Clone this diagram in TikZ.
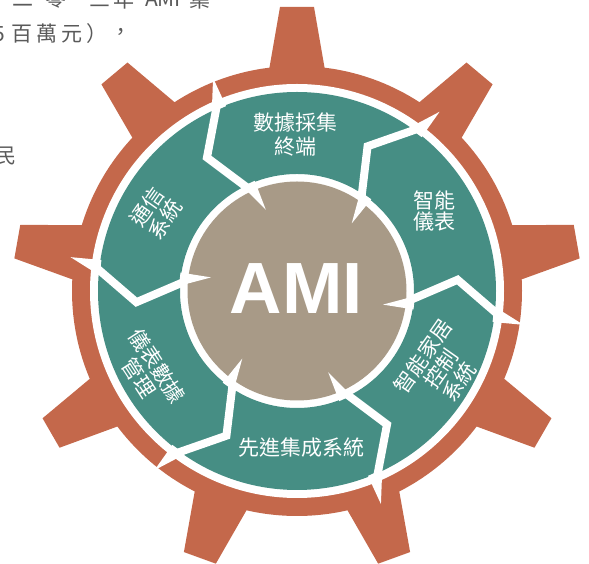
\documentclass[tikz,border=0pt]{standalone}
\usepackage{fontspec}
\setmainfont{Liberation Sans}
\newfontfamily\cjk{Noto Sans CJK TC}
\definecolor{gearorange}{HTML}{C4684B}
\definecolor{ringteal}{HTML}{468E84}
\definecolor{hubbeige}{HTML}{A89A87}
\definecolor{bgtext}{HTML}{5A5A5A}
\begin{document}
\begin{tikzpicture}[x=1pt,y=1pt,
  seglabel/.style={text=white, font=\cjk\fontsize{21}{24}\selectfont, align=center, inner sep=0pt},
  bgchar/.style={text=bgtext, font=\cjk\fontsize{21}{24}\selectfont, inner sep=0pt},
  divider/.style={draw=white, line width=8pt, line join=miter, miter limit=20},
  spike/.style={fill=white},
  amilabel/.style={text=white, font=\bfseries\fontsize{72.6}{80}\selectfont, inner sep=0pt}
]
\useasboundingbox (0,0) rectangle (589,564);
% background document text (cut by the page)
\node[bgchar] (b1) at (23,565) {二};
\node[bgchar] (b2) at (56,565) {零};
\node[bgchar] (b3) at (78,565) {一};
\node[bgchar] (b4) at (100,565) {三};
\node[bgchar] (b5) at (124,565) {年};
\node[bgchar] (b6) at (163,565) {AMI};
\node[bgchar] (b7) at (200,565) {集};
\node[bgchar] (c1) at (-1,530) {5};
\node[bgchar] (c2) at (22.5,530) {百};
\node[bgchar] (c3) at (47,530) {萬};
\node[bgchar] (c4) at (72,530) {元};
\node[bgchar] (c5) at (97,530) {）};
\node[bgchar] (c6) at (121,530) {，};
\node[bgchar] (d1) at (6,408) {民};
\node[bgchar] (e1) at (-3,366) {，};
% gear
\begin{scope}[shift={(297,273)}]
  \fill[gearorange] (0,0) circle (225);
  \foreach \a in {90,50,10,-30,-70,-110,-150,170,130}
    \fill[gearorange, rotate=\a] (215,-29) -- (284,-17) -- (284,17) -- (215,29) -- cycle;
  \fill[white] (0,0) circle (207);
  \fill[ringteal, even odd rule] (0,0) circle (199) (0,0) circle (117);
  \fill[hubbeige] (0,0) circle (109.5);
  \foreach \b in {-5,55,115,175,235,295} {
    \draw[divider] ({\b-2}:204) -- ({\b+9}:161) -- ({\b}:112);
    \fill[spike] ({\b+0.5}:198) -- ({\b-3.5}:229) -- ({\b-4}:198) -- cycle;
    \fill[spike] ({\b+2.5}:118) -- ({\b-4}:87) -- ({\b-4}:118) -- cycle;
  }
\end{scope}
\node[amilabel] (ami) at (296.5,275) {AMI};
\node[seglabel] (s1) at (295,429.5) {數據採集\\終端};
\node[seglabel] (s2) at (434,353) {智能\\[-3pt]儀表};
\node[seglabel, rotate=55] (s3) at (441,195) {智能家居\\[-2pt]控制\\[-2pt]系統};
\node[seglabel] (s4) at (301,116) {先進集成系統};
\node[seglabel, rotate=-57] (s5) at (148,192) {儀表數據\\[-2pt]管理};
\node[seglabel, rotate=55] (s6) at (156,351) {通信\\[-2pt]系統};
\end{tikzpicture}
\end{document}
